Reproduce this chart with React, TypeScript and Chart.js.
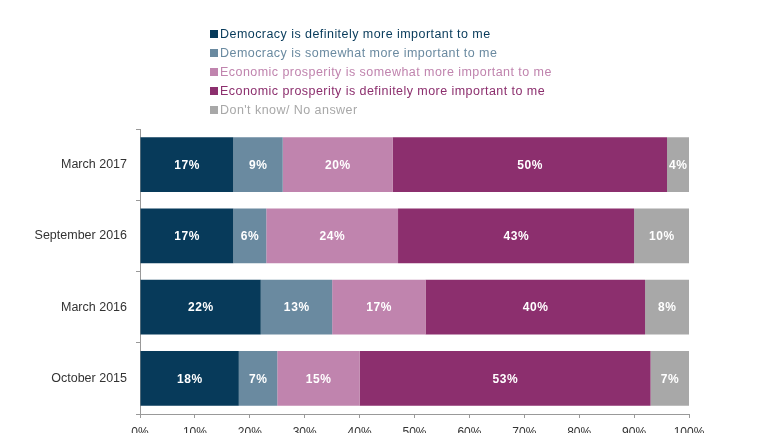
import React, { useEffect, useRef } from "react";
import { Chart, registerables } from "chart.js";

Chart.register(...registerables);

const categories = ["March 2017", "September 2016", "March 2016", "October 2015"];
const seriesNames = [
  "Democracy is definitely more important to me",
  "Democracy is somewhat more important to me",
  "Economic prosperity is somewhat more important to me",
  "Economic prosperity is definitely more important to me",
  "Don't know/ No answer",
];
const demDefinitely = [17, 17, 22, 18];
const demSomewhat = [9, 6, 13, 7];
const econSomewhat = [20, 24, 17, 15];
const econDefinitely = [50, 43, 40, 53];
const dontKnow = [4, 10, 8, 7];
const seriesColors = ["#073a5a", "#6a8aa0", "#c084ae", "#8c2f6e", "#a8a8a8"];
const xTicks = [0, 10, 20, 30, 40, 50, 60, 70, 80, 90, 100];

const FONT = "'Liberation Sans', Arial, sans-serif";

const legendPlugin = {
  id: "customLegend",
  afterDraw(chart: any) {
    const ctx = chart.ctx;
    ctx.save();
    ctx.font = `12.5px ${FONT}`;
    (ctx as any).letterSpacing = "0.45px";
    ctx.textBaseline = "middle";
    ctx.textAlign = "left";
    chart.data.datasets.forEach((ds: any, i: number) => {
      const y = 34 + i * 19;
      ctx.fillStyle = ds.backgroundColor;
      ctx.fillRect(210, y - 4, 8, 8);
      ctx.fillText(ds.label, 220, y + 1);
    });
    ctx.restore();
  },
};

const valueLabelPlugin = {
  id: "valueLabels",
  afterDatasetsDraw(chart: any) {
    const ctx = chart.ctx;
    ctx.save();
    ctx.font = `bold 12px ${FONT}`;
    (ctx as any).letterSpacing = "0.6px";
    ctx.fillStyle = "#ffffff";
    ctx.textAlign = "center";
    ctx.textBaseline = "middle";
    chart.data.datasets.forEach((ds: any, di: number) => {
      const meta = chart.getDatasetMeta(di);
      meta.data.forEach((bar: any, i: number) => {
        const v = ds.data[i];
        const cx = (bar.x + bar.base) / 2;
        ctx.fillText(`${v}%`, cx + 0.3, bar.y + 1);
      });
    });
    ctx.restore();
  },
};

export default function App() {
  const ref = useRef<HTMLCanvasElement>(null);
  useEffect(() => {
    document.body.style.margin = "0";
    const values = [demDefinitely, demSomewhat, econSomewhat, econDefinitely, dontKnow];
    const chart = new Chart(ref.current!, {
      type: "bar",
      data: {
        labels: categories,
        datasets: values.map((d, i) => ({
          label: seriesNames[i],
          data: d,
          backgroundColor: seriesColors[i],
          borderWidth: 0,
          categoryPercentage: 1,
          barPercentage: 0.77,
        })),
      },
      options: {
        indexAxis: "y",
        animation: false,
        responsive: false,
        maintainAspectRatio: false,
        layout: { padding: { top: 129, right: 81, left: 0, bottom: 0 } },
        plugins: { legend: { display: false }, tooltip: { enabled: false } },
        scales: {
          x: {
            stacked: true,
            min: 0,
            max: 100,
            afterBuildTicks: (s: any) => {
              s.ticks = xTicks.map((v) => ({ value: v }));
            },
            ticks: {
              callback: (v: any) => `${v}%`,
              color: "#333333",
              font: { family: FONT, size: 12 },
              padding: 7,
              maxRotation: 0,
            },
            grid: { drawOnChartArea: false, tickLength: 4, color: "#999999" },
            border: { color: "#999999" },
            afterFit: (s: any) => {
              s.height = 36;
            },
          },
          y: {
            stacked: true,
            ticks: {
              color: "#333333",
              font: { family: FONT, size: 12.5 },
              padding: 9,
            },
            grid: { drawOnChartArea: false, offset: true, tickLength: 4, color: "#999999" },
            border: { color: "#999999" },
            afterFit: (s: any) => {
              s.width = 140;
            },
          },
        },
      },
      plugins: [legendPlugin, valueLabelPlugin],
    });
    return () => chart.destroy();
  }, []);
  return (
    <div style={{ position: "absolute", left: 0, top: 0, width: 770, height: 450 }}>
      <canvas ref={ref} width={770} height={450} style={{ width: 770, height: 450 }} />
    </div>
  );
}
